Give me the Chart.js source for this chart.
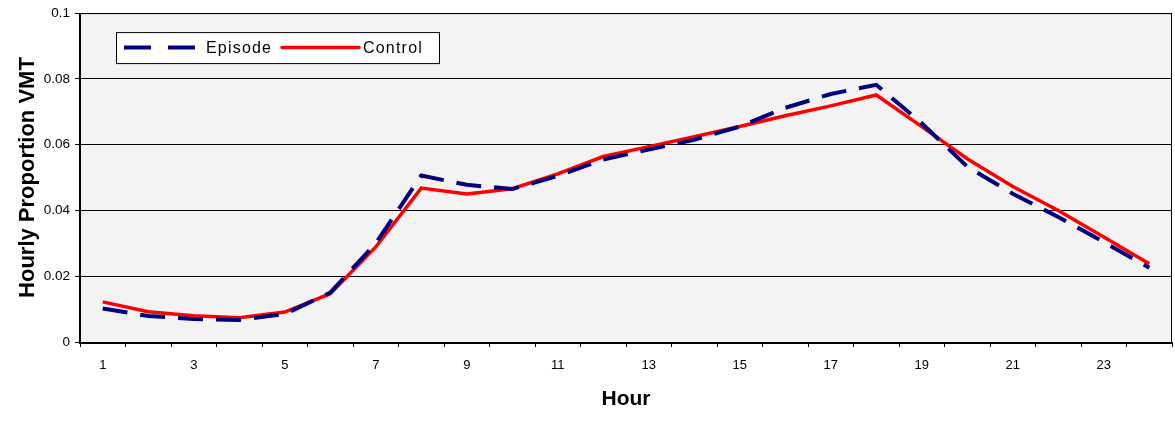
<!DOCTYPE html>
<html>
<head>
<meta charset="utf-8">
<script src="https://cdn.jsdelivr.net/npm/chart.js@4"></script>
<style>
    html, body { margin: 0; padding: 0; background: #ffffff; }
    #wrap { width: 1175px; height: 424px; position: relative; }
</style>
</head>
<body>
<div id="wrap"><canvas id="vmtChart"></canvas></div>
<script>
    // Hour of day, 1..24
    var hours = ['1', '2', '3', '4', '5', '6', '7', '8', '9', '10', '11', '12',
                 '13', '14', '15', '16', '17', '18', '19', '20', '21', '22', '23', '24'];

    // hourly proportion of VMT
    var episode = [0.0102, 0.0079, 0.0070, 0.0067, 0.0085, 0.0150, 0.0300, 0.0506,
                   0.0478, 0.0465, 0.0505, 0.0555, 0.0585, 0.0615, 0.0655, 0.0712,
                   0.0754, 0.0782, 0.0665, 0.0533, 0.0451, 0.0380, 0.0304, 0.0226];
    var control = [0.0122, 0.0092, 0.0080, 0.0074, 0.0091, 0.0147, 0.0289, 0.0468,
                   0.0450, 0.0466, 0.0511, 0.0564, 0.0594, 0.0624, 0.0655, 0.0688,
                   0.0718, 0.0751, 0.0655, 0.0557, 0.0473, 0.0400, 0.0319, 0.0238];

    var yTicks = [0, 0.02, 0.04, 0.06, 0.08, 0.1];

    var FONT = '"Liberation Sans", Arial, sans-serif';

    // grey plot background + black frame, like the Excel original
    var plotFrame = {
        id: 'plotFrame',
        beforeDraw: function (chart) {
            var a = chart.chartArea, ctx = chart.ctx;
            ctx.save();
            ctx.fillStyle = '#f3f3f3';
            ctx.fillRect(a.left, a.top, a.right - a.left, a.bottom - a.top);
            ctx.restore();
        },
        afterDatasetsDraw: function (chart) {
            var a = chart.chartArea, ctx = chart.ctx;
            ctx.save();
            ctx.strokeStyle = '#000000';
            ctx.lineWidth = 1;
            ctx.strokeRect(a.left + 0.5, a.top + 0.5, a.right - a.left - 1, a.bottom - a.top);
            ctx.lineWidth = 2;
            ctx.beginPath();
            ctx.moveTo(a.left, a.top);
            ctx.lineTo(a.left, a.bottom + 1);
            ctx.lineTo(a.right, a.bottom + 1);
            ctx.stroke();
            ctx.restore();
        }
    };

    // boxed legend sitting inside the plot area
    var insideLegend = {
        id: 'insideLegend',
        afterDraw: function (chart) {
            var a = chart.chartArea, ctx = chart.ctx;
            var x0 = a.left + 36, y0 = a.top + 19, w = 323, h = 31;
            var cy = y0 + h / 2;
            ctx.save();
            ctx.fillStyle = '#ffffff';
            ctx.fillRect(x0, y0, w, h);
            ctx.strokeStyle = '#000000';
            ctx.lineWidth = 1;
            ctx.strokeRect(x0 + 0.5, y0 + 0.5, w, h);

            var ds = chart.data.datasets;
            // Episode
            ctx.strokeStyle = ds[0].borderColor;
            ctx.lineWidth = ds[0].borderWidth;
            ctx.setLineDash([27, 17]);
            ctx.beginPath();
            ctx.moveTo(x0 + 8, cy);
            ctx.lineTo(x0 + 80, cy);
            ctx.stroke();
            // Control
            ctx.setLineDash([]);
            ctx.strokeStyle = ds[1].borderColor;
            ctx.lineWidth = ds[1].borderWidth;
            ctx.lineCap = 'round';
            ctx.beginPath();
            ctx.moveTo(x0 + 166, cy);
            ctx.lineTo(x0 + 243, cy);
            ctx.stroke();

            ctx.fillStyle = '#000000';
            ctx.font = '16px ' + FONT;
            ctx.textBaseline = 'middle';
            ctx.letterSpacing = '1.2px';
            ctx.fillText(ds[0].label, x0 + 90, cy + 1);
            ctx.fillText(ds[1].label, x0 + 247, cy + 1);
            ctx.restore();
        }
    };

    new Chart(document.getElementById('vmtChart').getContext('2d'), {
        type: 'line',
        data: {
            labels: hours,
            datasets: [
                {
                    label: 'Episode',
                    data: episode,
                    borderColor: '#000080',
                    borderWidth: 4,
                    borderDash: [25, 13],
                    pointRadius: 0,
                    tension: 0,
                    fill: false
                },
                {
                    label: 'Control',
                    data: control,
                    borderColor: '#ff0000',
                    borderWidth: 3.5,
                    pointRadius: 0,
                    tension: 0,
                    fill: false
                }
            ]
        },
        options: {
            responsive: true,
            maintainAspectRatio: false,
            animation: false,
            layout: { padding: { top: 12, right: 3, left: 0, bottom: 0 } },
            plugins: {
                legend: { display: false },
                tooltip: { enabled: false }
            },
            scales: {
                x: {
                    type: 'category',
                    offset: true,
                    grid: {
                        offset: true,
                        drawOnChartArea: false,
                        drawTicks: true,
                        tickLength: 5,
                        color: '#000000',
                        lineWidth: 1
                    },
                    border: { display: false },
                    ticks: {
                        autoSkip: false,
                        maxRotation: 0,
                        padding: 11,
                        color: '#000000',
                        font: { family: FONT, size: 13 },
                        callback: function (val, idx) {
                            return idx % 2 === 0 ? hours[idx] : '';
                        }
                    },
                    title: {
                        display: true,
                        text: 'Hour',
                        color: '#000000',
                        font: { family: FONT, size: 21, weight: 'bold' },
                        padding: { top: 0, bottom: 12 }
                    },
                    afterFit: function (scale) { scale.height = 82; }
                },
                y: {
                    min: 0,
                    max: 0.1,
                    afterBuildTicks: function (scale) {
                        scale.ticks = yTicks.map(function (v) { return { value: v }; });
                    },
                    grid: {
                        color: '#000000',
                        lineWidth: 1,
                        drawTicks: true,
                        tickLength: 5
                    },
                    border: { display: false },
                    ticks: {
                        padding: 5,
                        color: '#000000',
                        font: { family: FONT, size: 13.5 },
                        callback: function (v) { return String(+v.toFixed(2)); }
                    },
                    title: {
                        display: true,
                        text: 'Hourly Proportion VMT',
                        color: '#000000',
                        font: { family: FONT, size: 22, weight: 'bold' },
                        padding: { top: 15, bottom: 0 }
                    },
                    afterFit: function (scale) { scale.width = 80; }
                }
            }
        },
        plugins: [plotFrame, insideLegend]
    });
</script>
</body>
</html>
